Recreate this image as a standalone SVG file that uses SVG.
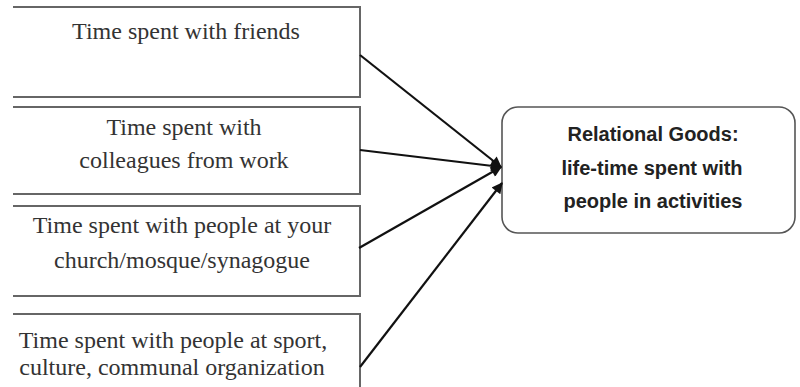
<svg xmlns="http://www.w3.org/2000/svg" width="800" height="387" viewBox="0 0 800 387">
  <style>
    .src { fill: #ffffff; stroke: #666666; stroke-width: 2; }
    .goal { fill: #ffffff; stroke: #555555; stroke-width: 1.6; }
    .src-text { font-family: "Liberation Serif", "Times New Roman", serif; font-size: 24px; fill: #333333; text-anchor: middle; }
    .goal-text { font-family: "Liberation Sans", Arial, sans-serif; font-size: 20px; font-weight: bold; fill: #222222; text-anchor: middle; }
    .link { stroke: #111111; stroke-width: 2.2; fill: none; marker-end: url(#head); }
  </style>
  <defs>
    <marker id="head" viewBox="0 0 10 10" refX="9" refY="5" markerWidth="6" markerHeight="5" orient="auto" markerUnits="strokeWidth">
      <path d="M0,0 L10,5 L0,10 z" fill="#111111"/>
    </marker>
  </defs>
  <rect width="800" height="387" fill="#ffffff"/>

  <!-- source boxes: open on the left edge -->
  <g id="friends">
    <path class="src" d="M13,7 H360 V97 H13"/>
    <text class="src-text" x="186" y="39">Time spent with friends</text>
  </g>
  <g id="colleagues">
    <path class="src" d="M13,107 H360 V194 H13"/>
    <text class="src-text" x="184" y="135">Time spent with</text>
    <text class="src-text" x="184" y="168">colleagues from work</text>
  </g>
  <g id="worship">
    <path class="src" d="M13,206 H360 V296 H13"/>
    <text class="src-text" x="182" y="233">Time spent with people at your</text>
    <text class="src-text" x="182" y="268">church/mosque/synagogue</text>
  </g>
  <g id="community">
    <path class="src" d="M13,314 H360 V392"/>
    <text class="src-text" x="173" y="348">Time spent with people at sport,</text>
    <text class="src-text" x="172" y="375">culture, communal organization</text>
  </g>

  <!-- target box -->
  <g id="relational-goods">
    <rect class="goal" x="502" y="107" width="293" height="126" rx="16" ry="16"/>
    <text class="goal-text" x="653" y="141">Relational Goods:</text>
    <text class="goal-text" x="652" y="175">life-time spent with</text>
    <text class="goal-text" x="653" y="208">people in activities</text>
  </g>

  <!-- connectors -->
  <g id="connectors">
    <line class="link" x1="360" y1="55" x2="501" y2="167"/>
    <line class="link" x1="360" y1="150" x2="501" y2="167"/>
    <line class="link" x1="359" y1="248" x2="501" y2="167"/>
    <line class="link" x1="360" y1="367" x2="502" y2="183"/>
  </g>
</svg>
